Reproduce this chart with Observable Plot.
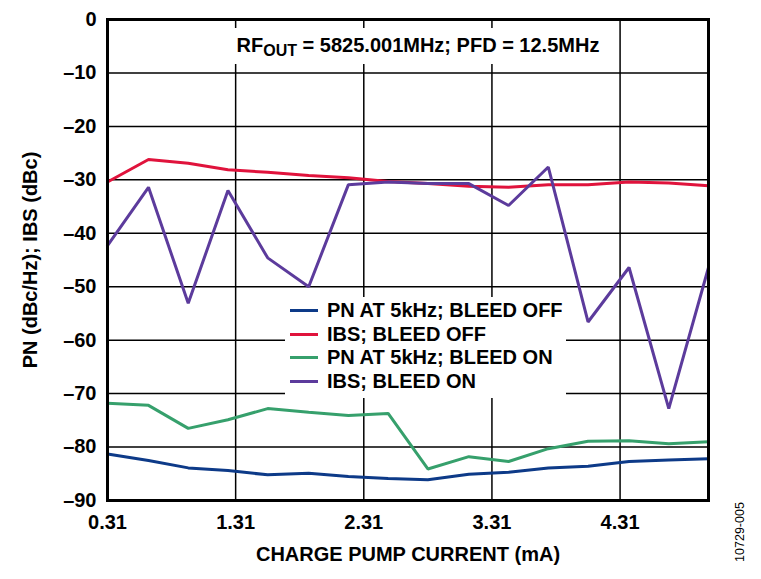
<!DOCTYPE html>
<html>
<head>
<meta charset="utf-8">
<script src="https://cdn.jsdelivr.net/npm/d3@7"></script>
<script src="https://cdn.jsdelivr.net/npm/@observablehq/plot@0.6"></script>
<style>
  body { margin: 0; background: #fff; }
  #wrap { position: relative; width: 761px; height: 579px; font-family: "Liberation Sans", Arial, sans-serif; font-weight: bold; color: #000; }
  #title { position: absolute; left: 224px; top: 28px; width: 388px; height: 36px; background: #fff; font-size: 20px; text-align: center; line-height: 34px; white-space: nowrap; }
  #title sub { font-size: 16px; vertical-align: -4px; line-height: 0; }
  #legend { position: absolute; left: 285px; top: 297px; width: 281px; height: 101px; background: #fff; font-size: 20px; }
  .row { position: absolute; left: 5px; height: 22px; line-height: 22px; white-space: nowrap; }
  .sw { display: inline-block; width: 28px; height: 3px; vertical-align: middle; margin-right: 9px; position: relative; top: -1px; }
  #code { position: absolute; left: 740px; top: 532px; font-size: 12.5px; font-weight: normal; transform: translate(-50%, -50%) rotate(-90deg); transform-origin: center; white-space: nowrap; }
</style>
</head>
<body>
<div id="wrap"></div>
<script>
// Data
const current = [0.31, 0.63, 0.94, 1.25, 1.56, 1.88, 2.19, 2.50, 2.81, 3.13, 3.44, 3.75, 4.06, 4.38, 4.69, 5.00];
const pnBleedOff  = [-81.3, -82.5, -83.9, -84.4, -85.2, -84.9, -85.5, -85.9, -86.1, -85.1, -84.7, -83.9, -83.6, -82.7, -82.4, -82.2];
const ibsBleedOff = [-30.4, -26.2, -26.9, -28.1, -28.6, -29.2, -29.6, -30.3, -30.7, -31.2, -31.4, -30.9, -30.9, -30.4, -30.6, -31.1];
const pnBleedOn   = [-71.8, -72.2, -76.5, -74.9, -72.8, -73.5, -74.1, -73.7, -84.1, -81.8, -82.7, -80.3, -78.9, -78.8, -79.4, -79.0];
const ibsBleedOn  = [-42.3, -31.4, -53.1, -32.0, -44.6, -50.0, -30.9, -30.4, -30.7, -30.7, -34.8, -27.6, -56.6, -46.4, -72.8, -46.4];

const seriesNames = ["PN AT 5kHz; BLEED OFF", "IBS; BLEED OFF", "PN AT 5kHz; BLEED ON", "IBS; BLEED ON"];
const seriesColors = ["#0d3a88", "#e0133c", "#36a06c", "#5c3b9c"];
const seriesValues = [pnBleedOff, ibsBleedOff, pnBleedOn, ibsBleedOn];

const xTicks = [0.31, 1.31, 2.31, 3.31, 4.31];
const yTicks = [0, -10, -20, -30, -40, -50, -60, -70, -80, -90];

const titleMain = "RF";
const titleSub = "OUT";
const titleRest = " = 5825.001MHz; PFD = 12.5MHz";
const xLabel = "CHARGE PUMP CURRENT (mA)";
const yLabel = "PN (dBc/Hz); IBS (dBc)";
const figCode = "10729-005";

const rows = [];
seriesNames.forEach((name, s) => {
  current.forEach((c, i) => rows.push({series: name, x: c, y: seriesValues[s][i]}));
});

const fmt = d => d === 0 ? "0" : "\u2013" + Math.abs(d);

const chart = Plot.plot({
  width: 761,
  height: 579,
  marginLeft: 107,
  marginRight: 53,
  marginTop: 19,
  marginBottom: 79,
  style: {fontFamily: "'Liberation Sans', Arial, sans-serif", fontWeight: "bold", fontSize: "20px", color: "#000", background: "#fff"},
  x: {domain: [0.31, 5.0]},
  y: {domain: [-90, 0]},
  color: {domain: seriesNames, range: seriesColors},
  marks: [
    Plot.gridX(xTicks, {stroke: "#000", strokeOpacity: 1, strokeWidth: 1.5}),
    Plot.gridY(yTicks, {stroke: "#000", strokeOpacity: 1, strokeWidth: 1.5}),
    Plot.axisX(xTicks, {tickSize: 0, tickPadding: 14, tickFormat: d => d.toFixed(2), fontSize: 20,
      label: xLabel, labelAnchor: "center", labelArrow: "none", labelOffset: 60}),
    Plot.axisY(yTicks, {tickSize: 0, tickPadding: 11, tickFormat: fmt, fontSize: 20,
      label: yLabel, labelAnchor: "center", labelArrow: "none", labelOffset: 85}),
    Plot.line(rows, {x: "x", y: "y", z: "series", stroke: "series", strokeWidth: 3, strokeLinejoin: "miter"}),
    Plot.frame({stroke: "#000", strokeWidth: 3})
  ]
});

const wrap = document.getElementById("wrap");
wrap.appendChild(chart);

const title = document.createElement("div");
title.id = "title";
title.innerHTML = titleMain + "<sub>" + titleSub + "</sub>" + titleRest;
wrap.appendChild(title);

const legend = document.createElement("div");
legend.id = "legend";
seriesNames.forEach((name, i) => {
  const r = document.createElement("div");
  r.className = "row";
  r.style.top = (2 + i * 23.5) + "px";
  r.innerHTML = '<span class="sw" style="background:' + seriesColors[i] + '"></span>' + name;
  legend.appendChild(r);
});
wrap.appendChild(legend);

const code = document.createElement("div");
code.id = "code";
code.textContent = figCode;
wrap.appendChild(code);
</script>
</body>
</html>
